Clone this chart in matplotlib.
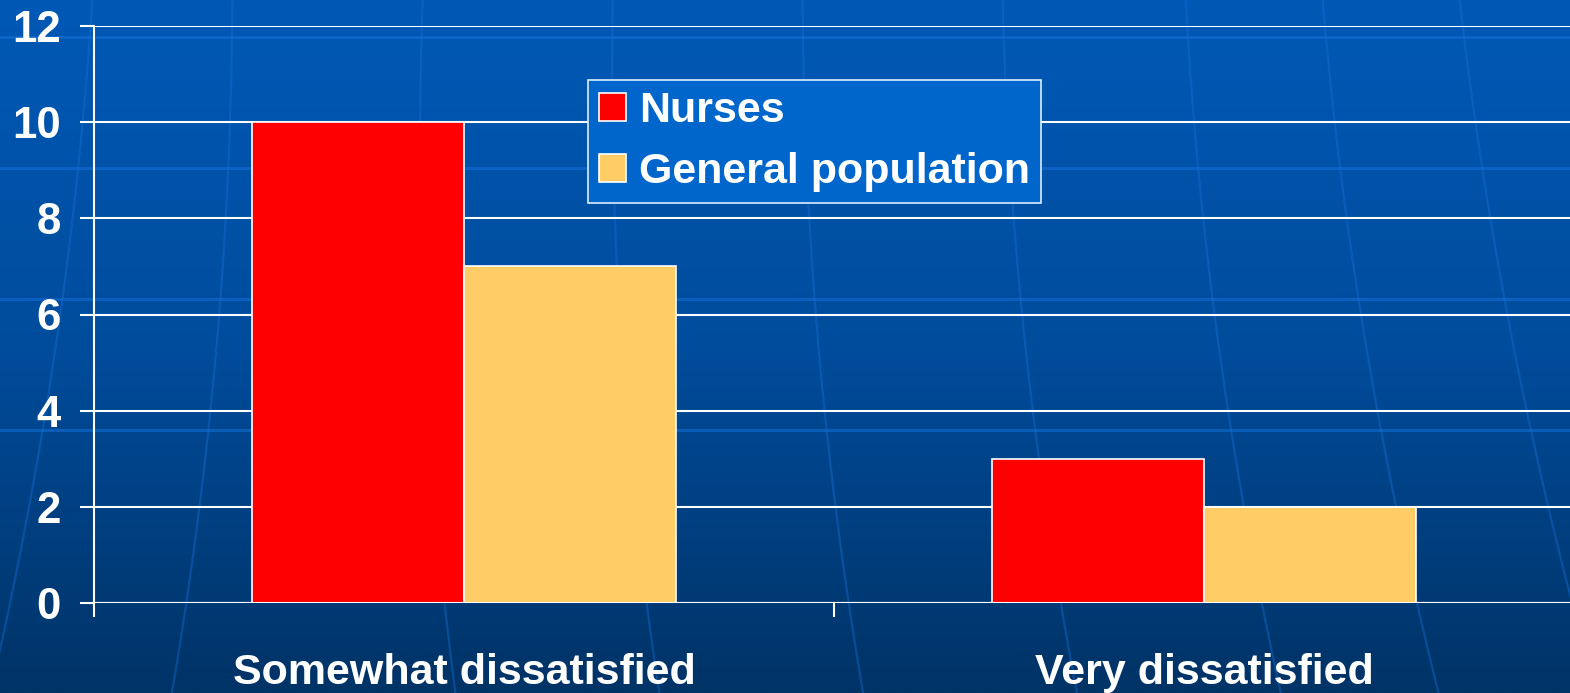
import numpy as np
import matplotlib
matplotlib.use("Agg")
import matplotlib.pyplot as plt
from matplotlib.colors import LinearSegmentedColormap

categories = ["Somewhat dissatisfied", "Very dissatisfied"]
series_names = ["Nurses", "General population"]
nurses = [10, 3]
general = [7, 2]
yticks = [0, 2, 4, 6, 8, 10, 12]

W, H = 1570, 693
fig = plt.figure(figsize=(W / 100, H / 100), dpi=100)
plt.rcParams['font.family'] = ['Liberation Sans', 'DejaVu Sans']
FS = 31

# background gradient
bg = fig.add_axes([0, 0, 1, 1])
cmap = LinearSegmentedColormap.from_list("bg", ["#0059B6", "#004C9C", "#003366"])
grad = np.linspace(0, 1, 256).reshape(-1, 1)
bg.imshow(grad, aspect="auto", cmap=cmap, extent=[0, W, H, 0])
bg.set_xlim(0, W)
bg.set_ylim(H, 0)
bg.axis("off")
# decorative globe lines
for yl in [37, 168, 299, 430]:
    bg.plot([0, W], [yl, yl], color="#1570D8", lw=2.2, alpha=0.55, zorder=2)
yy = np.linspace(0, H, 100)
for x0, k in [(-120, -0.15), (95, -0.10), (235, -0.04), (420, 0.0), (610, 0.02),
              (800, 0.04), (1000, 0.06), (1183, 0.09), (1320, 0.12), (1457, 0.15)]:
    xx = x0 + k * yy + 0.00012 * (yy - 150) ** 2 * np.sign(k if k != 0 else 1)
    bg.plot(xx, yy, color="#1570D8", lw=1.6, alpha=0.4, zorder=2)

left = 94 / W
right = 1574 / W
bottom = 1 - 603 / H
top = 1 - 26 / H
ax = fig.add_axes([left, bottom, right - left, top - bottom])
ax.patch.set_alpha(0)

x = np.arange(len(categories))
bw = 212 / 740
ax.bar(x - bw / 2, nurses, width=bw, color="#FF0000", edgecolor="white", linewidth=1.2,
       label=series_names[0], zorder=3)
ax.bar(x + bw / 2, general, width=bw, color="#FFCC66", edgecolor="white", linewidth=1.2,
       label=series_names[1], zorder=3)

ax.set_xlim(-0.5, 1.5)
ax.set_ylim(0, 12)
ax.set_yticks(yticks)
ax.set_yticklabels([str(t) for t in yticks])
ax.yaxis.grid(True, color="white", lw=1.5, zorder=1)
ax.set_axisbelow(True)
for s in ["top", "right", "bottom"]:
    ax.spines[s].set_visible(False)
ax.spines["left"].set_color("white")
ax.spines["left"].set_linewidth(1.5)
ax.axhline(0, color="white", lw=1.5, zorder=4)

ax.tick_params(axis="y", colors="white", length=10, width=1.5, pad=14, labelsize=FS + 0.5)
for lab in ax.get_yticklabels():
    lab.set_fontweight("bold")
ax.set_xticks([-0.5, 0.5])
ax.set_xticklabels(["", ""])
ax.tick_params(axis="x", colors="white", length=10, width=1.5)
ax.set_xticks(x, minor=True)
ax.set_xticklabels(categories, minor=True)
ax.tick_params(axis="x", which="minor", length=0, pad=36, labelsize=FS, labelcolor="white")
for lab in ax.get_xticklabels(minor=True):
    lab.set_fontweight("bold")

leg = ax.legend(loc="upper left", bbox_to_anchor=(588 / W, 1 - 80 / H),
                bbox_transform=fig.transFigure, frameon=True, fancybox=False,
                facecolor="#0066CC", edgecolor="#DDEEFF", framealpha=1,
                prop={"size": FS, "weight": "bold"}, labelcolor="white",
                handlelength=0.63, handleheight=0.63, handletextpad=0.3,
                borderpad=0.25, labelspacing=0.49, borderaxespad=0)
leg.get_frame().set_linewidth(1.2)

fig.savefig("out.png", dpi=100)
